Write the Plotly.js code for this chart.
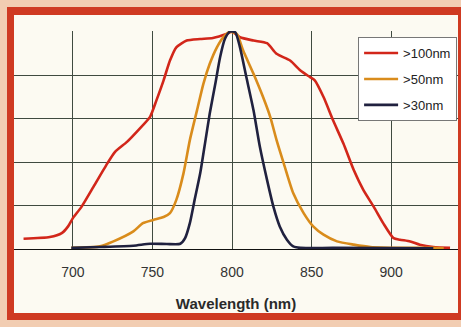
<!DOCTYPE html>
<html>
<head>
<meta charset="utf-8">
<script src="https://cdn.plot.ly/plotly-3.0.1.min.js"></script>
<style>
  html, body { margin:0; padding:0; width:461px; height:327px; overflow:hidden; background:#f2cdb2; }
  #frame { position:absolute; left:7px; top:7px; width:456px; height:313px; box-sizing:border-box;
           border-left:7px solid #cf3a22; border-top:8px solid #cf3a22; border-right:5px solid #cf3a22; border-bottom:7px solid #cf3a22;
           background:#fcfaf2; }
  #chart { position:absolute; left:0; top:0; width:461px; height:327px; }
</style>
</head>
<body>
<div id="frame"></div>
<div id="chart"></div>
<script>
// Wavelength (nm) and normalized intensity for each filter
const wl100 = [669, 685.5, 693, 697, 700, 705.5, 713, 721, 726.5, 734, 742, 748.5, 752.5, 757, 761, 765, 771.5, 780, 788, 796.5, 800, 805, 813.5, 822, 828, 836.5, 843, 849, 852, 857.5, 863.5, 870, 876.5, 882.5, 889, 895, 901.5, 905.5, 912, 918, 926.5, 937];
const v100  = [0.047, 0.055, 0.073, 0.104, 0.142, 0.195, 0.287, 0.386, 0.447, 0.493, 0.554, 0.608, 0.684, 0.776, 0.867, 0.928, 0.959, 0.966, 0.971, 0.989, 1.0, 0.974, 0.959, 0.947, 0.898, 0.867, 0.821, 0.791, 0.776, 0.699, 0.592, 0.485, 0.363, 0.272, 0.195, 0.119, 0.050, 0.043, 0.035, 0.020, 0.009, 0.005];

const wl50 = [699, 717, 725.5, 738, 744, 750.5, 757, 761, 765, 769.5, 773.5, 778, 782, 786, 790.5, 794.5, 798.7, 803, 807, 813.5, 819.5, 824, 828, 832.5, 838.5, 845, 851, 857.5, 866, 876.5, 887, 905.5, 926.5, 933];
const v50  = [0.005, 0.012, 0.035, 0.081, 0.119, 0.134, 0.147, 0.165, 0.226, 0.348, 0.501, 0.638, 0.760, 0.852, 0.928, 0.974, 1.0, 0.989, 0.913, 0.806, 0.699, 0.608, 0.501, 0.394, 0.256, 0.165, 0.104, 0.066, 0.035, 0.020, 0.009, 0.005, 0.005, 0.003];

const wl30 = [699, 717, 738, 748.5, 759, 767.5, 770.5, 773.5, 776.5, 780, 783, 786, 789.5, 792.5, 795.5, 798.7, 802, 805, 809, 813.5, 817.5, 822, 826, 830, 834.5, 838.5, 843, 863.5, 926.5];
const v30  = [0.005, 0.009, 0.015, 0.024, 0.023, 0.024, 0.050, 0.119, 0.226, 0.348, 0.485, 0.623, 0.760, 0.882, 0.966, 1.0, 0.997, 0.928, 0.791, 0.638, 0.470, 0.318, 0.195, 0.104, 0.043, 0.012, 0.005, 0.005, 0.003];

const names = ['>100nm', '>50nm', '>30nm'];
const colors = ['#d2261a', '#d98c1c', '#20213f'];
const xTicks = [700, 750, 800, 850, 900];

const traces = [[wl100, v100], [wl50, v50], [wl30, v30]].map((d, i) => ({
  x: d[0], y: d[1], type: 'scatter', mode: 'lines', name: names[i],
  legendgroup: 'g' + i,
  line: { color: colors[i], width: 2.6, shape: 'spline', smoothing: 0.6 }
}));

const layout = {
  width: 461, height: 327,
  margin: { l: 14, r: 3, t: 31, b: 78 },
  paper_bgcolor: 'rgba(0,0,0,0)',
  plot_bgcolor: 'rgba(0,0,0,0)',
  font: { family: 'Arial, "Liberation Sans", sans-serif', color: '#222' },
  showlegend: true,
  legend: {
    x: 0.775, y: 0.972, xanchor: 'left', yanchor: 'top',
    bgcolor: '#ffffff', bordercolor: '#777', borderwidth: 1,
    font: { size: 13, color: '#222' },
    traceorder: 'grouped', tracegroupgap: 6,
    itemwidth: 34
  },
  xaxis: {
    range: [663, 942],
    tickvals: xTicks, ticktext: xTicks.map(String),
    showgrid: true, gridcolor: '#3f4a40', gridwidth: 1,
    zeroline: false, showline: true, linecolor: '#111', linewidth: 1.2,
    ticks: 'outside', ticklen: 10, tickcolor: 'rgba(0,0,0,0)',
    tickfont: { size: 14, color: '#333' },
    title: { text: '<b>Wavelength (nm)</b>', font: { size: 15, color: '#2a2a2a' }, standoff: 19 }
  },
  yaxis: {
    range: [0, 1.003], dtick: 0.2, tick0: 0,
    showticklabels: false, ticks: '',
    showgrid: true, gridcolor: '#3f4a40', gridwidth: 1,
    zeroline: false, showline: false
  }
};

Plotly.newPlot('chart', traces, layout, { displayModeBar: false, staticPlot: true });
</script>
</body>
</html>
